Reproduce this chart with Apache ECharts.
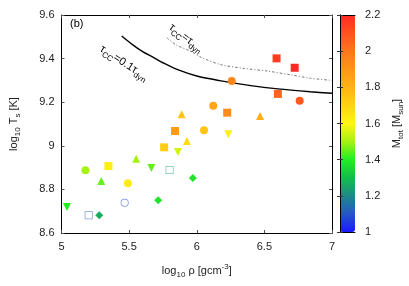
<!DOCTYPE html>
<html><head><meta charset="utf-8">
<script src="https://cdn.jsdelivr.net/npm/echarts@6/dist/echarts.min.js"></script>
<style>html,body{margin:0;padding:0;background:#fff}#c{width:409px;height:286px}</style>
</head><body><div id="c"></div>
<script>
// data: [log rho, log T, Mtot]
const circles = [[6.259,9.297,1.95],[6.761,9.207,2.08],[6.122,9.184,1.85],[6.054,9.071,1.75],[5.177,8.888,1.50],[5.491,8.828,1.63]];
const squares = [[6.590,9.401,2.15],[6.724,9.358,2.20],[6.600,9.238,2.05],[6.225,9.152,1.93],[5.839,9.068,1.88],[5.759,8.993,1.72],[5.347,8.907,1.62]];
const triUp = [[5.888,9.145,1.75],[6.468,9.137,1.82],[5.927,9.022,1.68],[5.552,8.941,1.50],[5.294,8.839,1.45]];
const triDown = [[6.234,9.053,1.62],[5.861,8.972,1.55],[5.664,8.898,1.45],[5.040,8.719,1.40]];
const diamonds = [[5.971,8.852,1.38],[5.715,8.750,1.38],[5.279,8.681,1.27]];
const openCircles = [[5.467,8.739,1.05]];
const openSquares = [[5.799,8.889,1.25],[5.201,8.681,1.12]];
const lineTau01 = [[5.445,9.504],[5.53,9.462],[5.60,9.432],[5.669,9.409],[5.76,9.378],[5.864,9.348],[6.00,9.320],[6.169,9.299],[6.40,9.276],[6.60,9.261],[6.839,9.248],[7.0,9.241]];
const lineTau1 = [[5.78,9.495],[5.85,9.462],[5.962,9.432],[6.035,9.405],[6.18,9.372],[6.35,9.355],[6.52,9.343],[6.70,9.325],[6.84,9.310],[7.0,9.300]];
const xTicks = [5,5.5,6,6.5,7];
const yTicks = [8.6,8.8,9,9.2,9.4,9.6];
const cbTicks = [1,1.2,1.4,1.6,1.8,2,2.2];
const cmap = ['#1a1aff','#2456c8','#1e8a88','#12be4a','#22ee22','#a6f212','#fff514','#ffd414','#ffb414','#ff9618','#ff761c','#ff521e','#ff2a22'];

const FONT = 'Liberation Sans';
const tc = '#222';
const richBase = {
  n:{fontSize:11,fontFamily:FONT,color:tc,lineHeight:16,verticalAlign:'middle'},
  s:{fontSize:8,fontFamily:FONT,color:tc,lineHeight:16,verticalAlign:'bottom'},
  p:{fontSize:8,fontFamily:FONT,color:tc,lineHeight:16,verticalAlign:'top'}
};
const richBlack = {
  n:{fontSize:11,fontFamily:FONT,color:'#000',lineHeight:16,verticalAlign:'middle'},
  s:{fontSize:8,fontFamily:FONT,color:'#000',lineHeight:16,verticalAlign:'bottom'}
};
const ringCircle = 'path://M0,10A10,10,0,1,0,20,10A10,10,0,1,0,0,10ZM1.8,10A8.2,8.2,0,1,1,18.2,10A8.2,8.2,0,1,1,1.8,10Z';
const ringSquare = 'path://M0,0H20V20H0ZM1.8,1.8V18.2H18.2V1.8Z';

const chart = echarts.init(document.getElementById('c'), null, {renderer:'canvas'});
function scat(name, data, symbol, size, rotate, open){
  return {type:'scatter', name, data, symbol, symbolSize:size, symbolRotate:rotate||0,
    xAxisIndex:0, yAxisIndex:0, itemStyle: open ? {opacity:0.6} : {opacity:1}, z:5, silent:true};
}
const grid0 = {left:58, top:15, width:274, height:218};
const axisCommon = {axisLine:{show:true,lineStyle:{color:'#000',width:1}},
  axisTick:{show:true,inside:true,length:3,lineStyle:{color:'#555'}},splitLine:{show:false}};
const option = {
  animation:false,
  backgroundColor:'#fff',
  grid:[grid0,{left:340, top:15, width:15, height:217}],
  xAxis:[
    Object.assign({type:'value',gridIndex:0,min:5,max:7,interval:0.5,position:'bottom',
      axisLabel:{color:tc,fontSize:11,fontFamily:FONT,margin:8,formatter:v=>String(v)},
      name:'{n|log}{s|10}{n| ρ [gcm}{p|-3}{n|]}', nameLocation:'middle', nameGap:30,
      nameTextStyle:{rich:richBase}}, axisCommon),
    Object.assign({type:'value',gridIndex:0,min:5,max:7,interval:0.5,position:'top',axisLabel:{show:false}}, axisCommon),
    {type:'value',gridIndex:1,min:0,max:1,position:'bottom',axisLine:{show:true,lineStyle:{color:'#000'}},axisTick:{show:false},axisLabel:{show:false},splitLine:{show:false},z:10},
    {type:'value',gridIndex:1,min:0,max:1,position:'top',axisLine:{show:true,lineStyle:{color:'#000'}},axisTick:{show:false},axisLabel:{show:false},splitLine:{show:false},z:10}
  ],
  yAxis:[
    Object.assign({type:'value',gridIndex:0,min:8.6,max:9.6,interval:0.2,position:'left',
      axisLabel:{color:tc,fontSize:11,fontFamily:FONT,margin:7,formatter:v=>String(+v.toFixed(1))},
      name:'{n|log}{s|10}{n| T}{s|s}{n| [K]}', nameLocation:'middle', nameGap:40, nameRotate:90,
      nameTextStyle:{rich:richBase}}, axisCommon),
    Object.assign({type:'value',gridIndex:0,min:8.6,max:9.6,interval:0.2,position:'right',axisLabel:{show:false}}, axisCommon),
    {type:'value',gridIndex:1,min:1,max:2.2,interval:0.2,position:'left',
      axisLine:{show:true,lineStyle:{color:'#000'}},axisTick:{show:true,inside:true,length:3,lineStyle:{color:'#333'}},
      axisLabel:{show:false},splitLine:{show:false},z:10},
    {type:'value',gridIndex:1,min:1,max:2.2,interval:0.2,position:'right',
      axisLine:{show:true,lineStyle:{color:'#000'}},axisTick:{show:true,inside:true,length:3,lineStyle:{color:'#333'}},
      axisLabel:{show:true,color:tc,fontSize:11,fontFamily:FONT,margin:10,formatter:v=>String(+v.toFixed(1))},
      name:'{n|M}{s|tot}{n| [M}{s|sun}{n|]}', nameLocation:'middle', nameGap:34, nameRotate:90,
      nameTextStyle:{rich:richBase},splitLine:{show:false},z:10}
  ],
  visualMap:{type:'continuous', min:1, max:2.2, dimension:2, seriesIndex:[0,1,2,3,4,5,6],
    inRange:{color:cmap}, show:true, calculable:false, left:340, top:15, itemWidth:15, itemHeight:217,
    padding:0, text:null, showLabel:false, realtime:false, hoverLink:false},
  graphic:[
    {type:'text', left:70, top:18, style:{text:'(b)', font:'11px "Liberation Sans"', fill:'#000'}},
    {type:'text', x:124, y:63, rotation:-33*Math.PI/180, style:{text:'{n|τ}{s|CC}{n|=0.1τ}{s|dyn}', rich:richBlack, align:'center', verticalAlign:'middle'}},
    {type:'text', x:186, y:38, rotation:-37*Math.PI/180, style:{text:'{n|τ}{s|CC}{n|=τ}{s|dyn}', rich:richBlack, align:'center', verticalAlign:'middle'}}
  ],
  series:[
    scat('circles', circles, 'circle', 8),
    scat('squares', squares, 'rect', 8),
    scat('triUp', triUp, 'triangle', 8),
    scat('triDown', triDown, 'triangle', 8, 180),
    scat('diamonds', diamonds, 'diamond', 8),
    scat('openCircles', openCircles, ringCircle, 8, 0, true),
    scat('openSquares', openSquares, ringSquare, 8, 0, true),
    {type:'line', data:lineTau01, xAxisIndex:0, yAxisIndex:0, symbol:'none', smooth:0.3,
      lineStyle:{color:'#000', width:1.4}, z:3, silent:true},
    {type:'line', data:lineTau1, xAxisIndex:0, yAxisIndex:0, symbol:'none', smooth:0.3,
      lineStyle:{color:'#777', width:1, type:[2.5,2,1,2]}, z:3, silent:true},
    {type:'scatter', data:[], xAxisIndex:2, yAxisIndex:2}
  ]
};
chart.setOption(option);
</script></body></html>
